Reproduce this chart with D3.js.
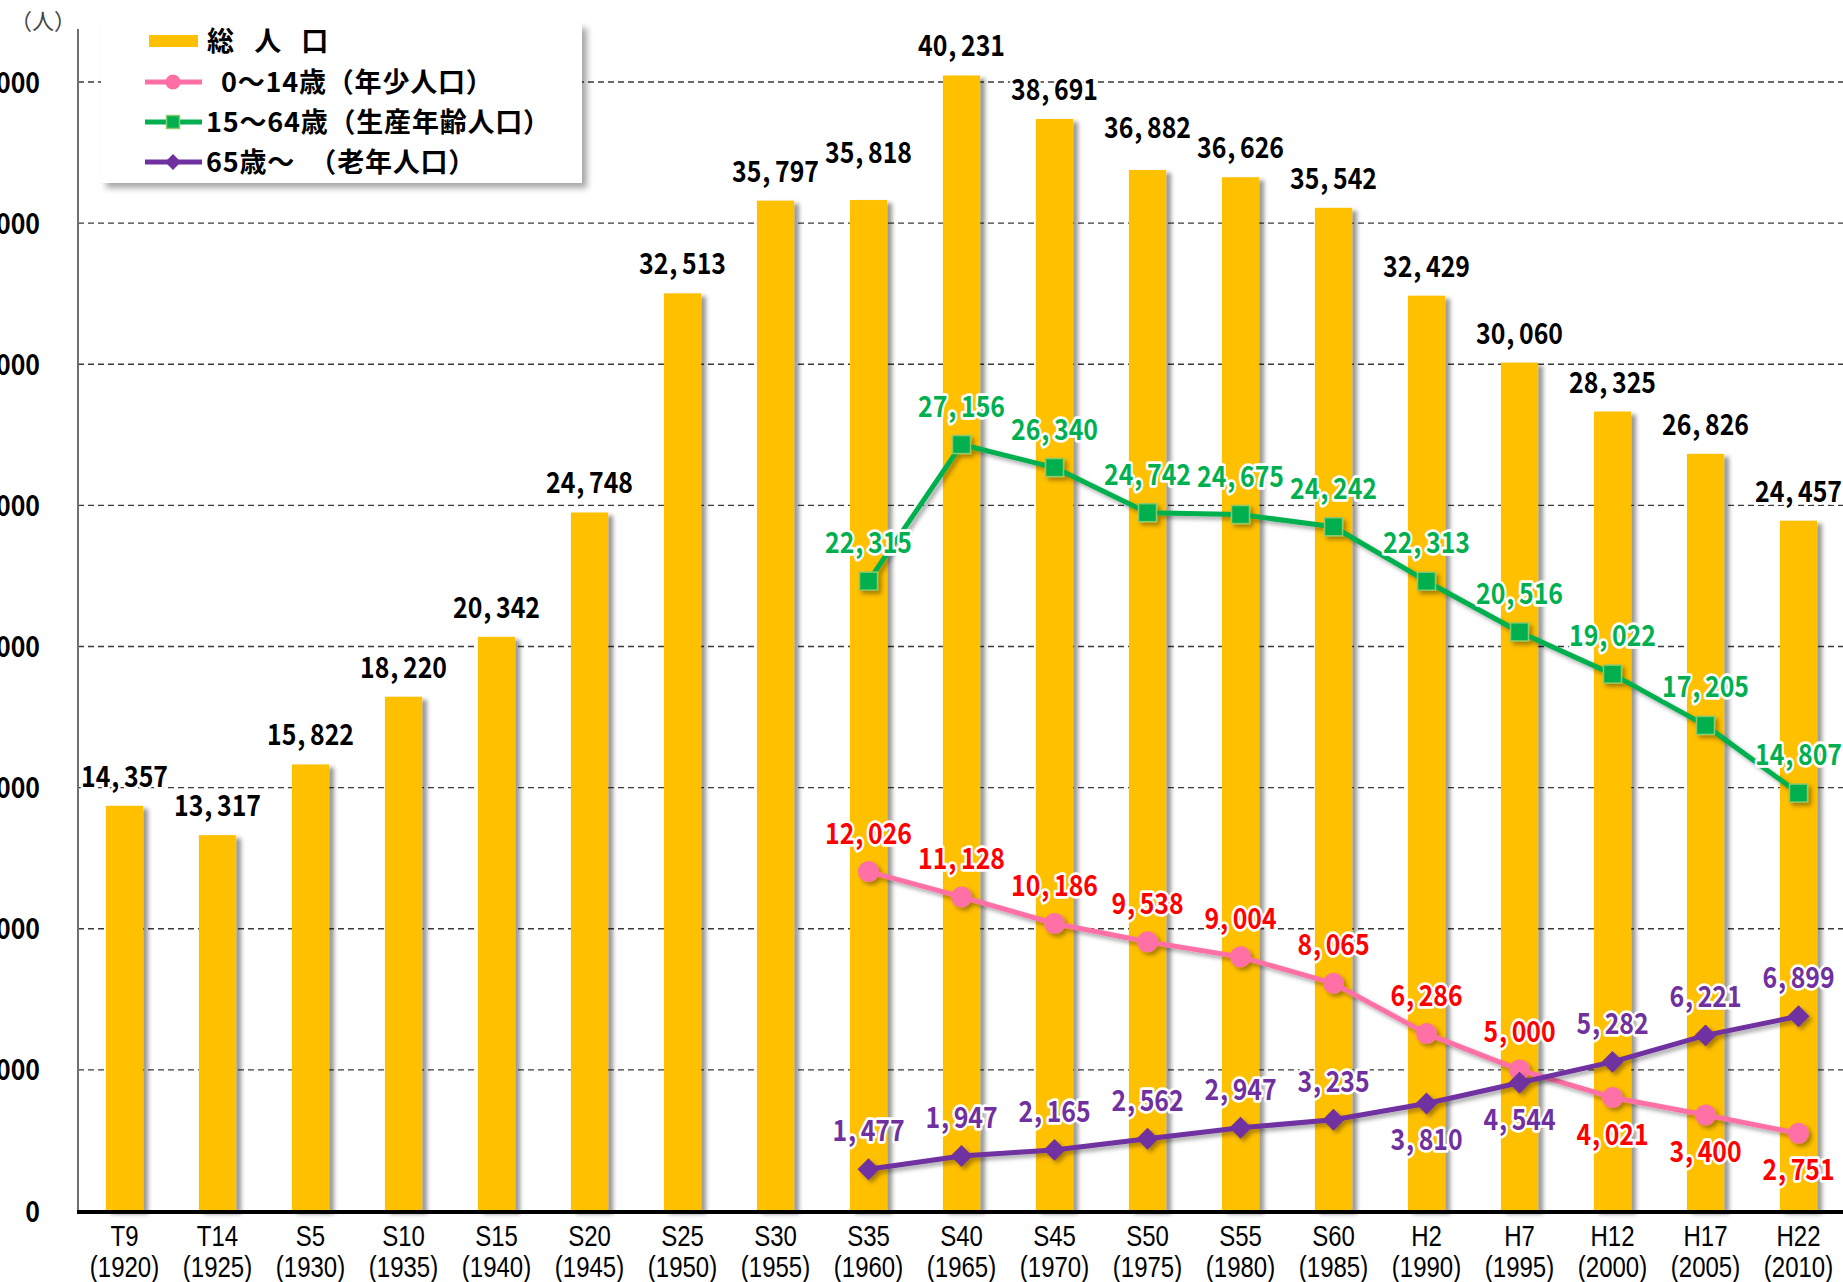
<!DOCTYPE html>
<html>
<head>
<meta charset="utf-8">
<script src="https://cdn.jsdelivr.net/npm/d3@7"></script>
<style>
  body { margin: 0; background: #fff; }
  text { font-family: "Noto Sans CJK JP", "Liberation Sans", sans-serif; }
</style>
</head>
<body>
<div id="chart"></div>
<script>
// Data
const eras = ["T9", "T14", "S5", "S10", "S15", "S20", "S25", "S30", "S35", "S40",
  "S45", "S50", "S55", "S60", "H2", "H7", "H12", "H17", "H22"];
const years = ["1920", "1925", "1930", "1935", "1940", "1945", "1950", "1955", "1960", "1965",
  "1970", "1975", "1980", "1985", "1990", "1995", "2000", "2005", "2010"];
const totalPop = [14357, 13317, 15822, 18220, 20342, 24748, 32513, 35797, 35818, 40231,
  38691, 36882, 36626, 35542, 32429, 30060, 28325, 26826, 24457];
// age groups only from S35 on
const ageEras = ["S35", "S40", "S45", "S50", "S55", "S60", "H2", "H7", "H12", "H17", "H22"];
const young = [12026, 11128, 10186, 9538, 9004, 8065, 6286, 5000, 4021, 3400, 2751];
const working = [22315, 27156, 26340, 24742, 24675, 24242, 22313, 20516, 19022, 17205, 14807];
const elderly = [1477, 1947, 2165, 2562, 2947, 3235, 3810, 4544, 5282, 6221, 6899];
const yTicks = [0, 5000, 10000, 15000, 20000, 25000, 30000, 35000, 40000];

// label above (-1) or below (+1) the marker
const youngSide = [-1, -1, -1, -1, -1, -1, -1, -1, 1, 1, 1];
const elderlySide = [-1, -1, -1, -1, -1, -1, 1, 1, -1, -1, -1];

// Define "SVG"
const svgWidth = 1843;
const svgHeight = 1282;

const margin = { top: 82, right: 0, bottom: 71, left: 78 };
const chartWidth = 1767;
const chartHeight = svgHeight - margin.top - margin.bottom;

const svg = d3.select("#chart")
  .append("svg")
  .attr("width", svgWidth)
  .attr("height", svgHeight)
  .style("display", "block");

svg.append("rect")
  .attr("width", svgWidth)
  .attr("height", svgHeight)
  .attr("fill", "#fff");

// drop shadows
const defs = svg.append("defs");
defs.append("filter")
  .attr("id", "barShadow")
  .attr("x", "-20%").attr("y", "-5%").attr("width", "160%").attr("height", "110%")
  .append("feDropShadow")
  .attr("dx", 5).attr("dy", 3).attr("stdDeviation", 2.2)
  .attr("flood-color", "#000").attr("flood-opacity", 0.4);
defs.append("filter")
  .attr("id", "lineShadow")
  .attr("x", "-10%").attr("y", "-10%").attr("width", "120%").attr("height", "130%")
  .append("feDropShadow")
  .attr("dx", 3).attr("dy", 3).attr("stdDeviation", 2)
  .attr("flood-color", "#000").attr("flood-opacity", 0.35);
defs.append("filter")
  .attr("id", "boxShadow")
  .attr("x", "-5%").attr("y", "-10%").attr("width", "115%").attr("height", "130%")
  .append("feDropShadow")
  .attr("dx", 5).attr("dy", 5).attr("stdDeviation", 3)
  .attr("flood-color", "#000").attr("flood-opacity", 0.35);

const chartGroup = svg.append("g")
  .attr("transform", `translate(${margin.left}, ${margin.top})`);

// scales
const xScale = d3.scaleBand()
  .domain(eras)
  .range([0, chartWidth])
  .paddingInner(0.6)
  .paddingOuter(0.3);

const yScale = d3.scaleLinear()
  .domain([0, 40000])
  .range([chartHeight, 0]);

const cx = d => xScale(d) + xScale.bandwidth() / 2;

// writes a number as "14, 357" style text
const fmt = d3.format(",");
function numberText(sel, value) {
  const parts = fmt(value).split(",");
  parts.forEach((p, i) => {
    if (i > 0) sel.append("tspan").attr("dx", 1).text(",");
    sel.append("tspan").attr("dx", i > 0 ? 5 : 0).text(p);
  });
}

// dashed gridlines
chartGroup.append("g")
  .selectAll("line")
  .data(yTicks.filter(d => d > 0))
  .enter()
  .append("line")
  .attr("x1", 0)
  .attr("x2", svgWidth)
  .attr("y1", d => yScale(d))
  .attr("y2", d => yScale(d))
  .attr("stroke", "#3a3a3a")
  .attr("stroke-width", 1.3)
  .attr("stroke-dasharray", "6,4");

// total population bars
chartGroup.append("g")
  .attr("filter", "url(#barShadow)")
  .selectAll("rect")
  .data(totalPop)
  .enter()
  .append("rect")
  .attr("x", (d, i) => xScale(eras[i]))
  .attr("y", d => yScale(d))
  .attr("width", xScale.bandwidth())
  .attr("height", d => chartHeight - yScale(d))
  .attr("fill", "#FFC000");

// axes lines
chartGroup.append("line")
  .attr("x1", 0).attr("x2", 0)
  .attr("y1", 29 - margin.top).attr("y2", chartHeight)
  .attr("stroke", "#707070")
  .attr("stroke-width", 2);

chartGroup.append("line")
  .attr("x1", -1).attr("x2", svgWidth)
  .attr("y1", chartHeight + 1).attr("y2", chartHeight + 1)
  .attr("stroke", "#000")
  .attr("stroke-width", 4);

// y axis tick labels
const yAxis = chartGroup.append("g")
  .call(d3.axisLeft(yScale).tickValues(yTicks).tickSize(0).tickFormat(""));
yAxis.select(".domain").remove();
yAxis.selectAll(".tick").each(function (d) {
  const t = d3.select(this).append("g")
    .attr("transform", "translate(-38, 10) scale(0.92, 1.08)")
    .append("text")
    .attr("text-anchor", "end")
    .attr("fill", "#000")
    .style("font-size", "27px")
    .style("font-weight", "bold");
  numberText(t, d);
});

// x axis tick labels (two rows)
const xLabels = chartGroup.append("g")
  .selectAll("g")
  .data(eras)
  .enter()
  .append("g")
  .attr("transform", d => `translate(${cx(d)}, ${chartHeight})`);

xLabels.append("text")
  .attr("transform", "translate(0, 35) scale(1, 1.2)")
  .attr("text-anchor", "middle")
  .style("font-family", "'Liberation Sans', sans-serif")
  .style("font-size", "24px")
  .text(d => d);

xLabels.append("text")
  .attr("transform", "translate(0, 66) scale(1, 1.2)")
  .attr("text-anchor", "middle")
  .style("font-family", "'Liberation Sans', sans-serif")
  .style("font-size", "24px")
  .text((d, i) => `(${years[i]})`);

// age-group lines
const series = [
  { name: "young", values: young, color: "#FF6FA6", text: "#FF0000", marker: "circle", side: youngSide },
  { name: "working", values: working, color: "#00B050", text: "#00B050", marker: "square", side: null },
  { name: "elderly", values: elderly, color: "#7030A0", text: "#7030A0", marker: "diamond", side: elderlySide }
];

function drawMarker(g, type, color, scale) {
  if (type === "circle") {
    g.append("circle").attr("r", 10.5 * scale).attr("fill", color);
  } else if (type === "square") {
    const s = 18 * scale;
    g.append("rect")
      .attr("x", -s / 2).attr("y", -s / 2)
      .attr("width", s).attr("height", s)
      .attr("fill", color)
      .attr("stroke", "#8CC96A")
      .attr("stroke-width", 1.5);
  } else {
    g.append("path")
      .attr("d", d3.symbol(d3.symbolSquare, 240 * scale * scale)())
      .attr("transform", "rotate(45)")
      .attr("fill", color);
  }
}

const line = d3.line()
  .x((d, i) => cx(ageEras[i]))
  .y(d => yScale(d));

series.forEach(s => {
  const g = chartGroup.append("g").attr("filter", "url(#lineShadow)");
  g.append("path")
    .datum(s.values)
    .attr("d", line)
    .attr("fill", "none")
    .attr("stroke", s.color)
    .attr("stroke-width", 5)
    .attr("stroke-linejoin", "round");
  s.values.forEach((v, i) => {
    const m = g.append("g")
      .attr("transform", `translate(${cx(ageEras[i])}, ${yScale(v)})`);
    drawMarker(m, s.marker, s.color, 1);
  });
});

// value labels (slightly condensed like the original font)
function label(x, y, value, color) {
  const t = chartGroup.append("g")
    .attr("transform", `translate(${x}, ${y}) scale(0.92, 1.08)`)
    .append("text")
    .attr("text-anchor", "middle")
    .attr("fill", color)
    .attr("stroke", "#fff")
    .attr("stroke-width", 5)
    .attr("stroke-linejoin", "round")
    .attr("paint-order", "stroke")
    .style("font-size", "27px")
    .style("font-weight", "bold");
  numberText(t, value);
}

// a couple of total labels sit higher in the original
const totalNudge = { S35: -18, S50: -13 };
totalPop.forEach((v, i) => {
  label(cx(eras[i]), yScale(v) - 19 + (totalNudge[eras[i]] || 0), v, "#000");
});

series.forEach(s => {
  s.values.forEach((v, i) => {
    const side = s.side ? s.side[i] : -1;
    const y = yScale(v) + (side < 0 ? -28 : 47);
    label(cx(ageEras[i]), y, v, s.text);
  });
});

// legend
const legend = svg.append("g");
legend.append("rect")
  .attr("x", 101).attr("y", 23)
  .attr("width", 481).attr("height", 160)
  .attr("fill", "#fff")
  .attr("filter", "url(#boxShadow)");

const legendItems = [
  { text: "総 人 口", x: 207, kind: "bar", color: "#FFC000" },
  { text: "0～14歳（年少人口）", x: 221, kind: "circle", color: "#FF6FA6" },
  { text: "15～64歳（生産年齢人口）", x: 206, kind: "square", color: "#00B050" },
  { text: "65歳～　（老年人口）", x: 206, kind: "diamond", color: "#7030A0" }
];
const legendRowY = [41, 82, 122, 162];

legendItems.forEach((item, i) => {
  const y = legendRowY[i];
  if (item.kind === "bar") {
    legend.append("rect")
      .attr("x", 149).attr("y", y - 6)
      .attr("width", 49).attr("height", 12)
      .attr("fill", item.color);
  } else {
    legend.append("line")
      .attr("x1", 145).attr("x2", 202)
      .attr("y1", y).attr("y2", y)
      .attr("stroke", item.color)
      .attr("stroke-width", 5);
    const m = legend.append("g").attr("transform", `translate(173, ${y})`);
    drawMarker(m, item.kind, item.color, 0.72);
  }
  legend.append("text")
    .attr("x", item.x)
    .attr("y", y + 10)
    .attr("fill", "#000")
    .attr("xml:space", "preserve")
    .style("white-space", "pre")
    .style("letter-spacing", item.kind === "bar" ? "7px" : "0.8px")
    .style("font-size", "27px")
    .style("font-weight", "bold")
    .text(item.text);
});

// unit label
svg.append("text")
  .attr("x", 10)
  .attr("y", 29)
  .attr("fill", "#444")
  .style("font-size", "22px")
  .text("（人）");
</script>
</body>
</html>
